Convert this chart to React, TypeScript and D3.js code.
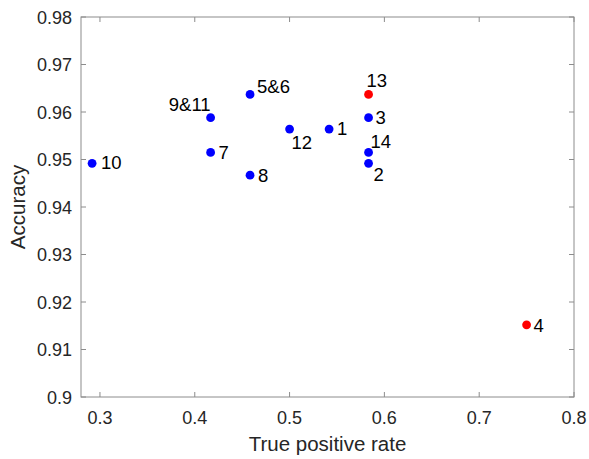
import React from "react";
import * as d3 from "d3";

const labels = ["1", "2", "3", "4", "5&6", "7", "8", "9&11", "10", "12", "13", "14"];
const tpr = [0.5417, 0.5833, 0.5833, 0.75, 0.4583, 0.4167, 0.4583, 0.4167, 0.2917, 0.5, 0.5833, 0.5833];
const accuracy = [0.9564, 0.9492, 0.9588, 0.9152, 0.9637, 0.9515, 0.9467, 0.9588, 0.9492, 0.9564, 0.9637, 0.9515];
const highlighted = [false, false, false, true, false, false, false, false, false, false, true, false];
const xTicks = [0.3, 0.4, 0.5, 0.6, 0.7, 0.8];
const yTicks = [0.9, 0.91, 0.92, 0.93, 0.94, 0.95, 0.96, 0.97, 0.98];

// label placement (dx, dy of baseline, anchor) per point
const labelOffsets: [number, number, string][] = [
  [8, 6, "start"],
  [5, 18, "start"],
  [7, 6, "start"],
  [7, 7, "start"],
  [7, -1, "start"],
  [8, 7, "start"],
  [8, 7, "start"],
  [0, -7, "end"],
  [9, 6, "start"],
  [2, 20, "start"],
  [-2, -7, "start"],
  [2, -4, "start"],
];

export default function App() {
  const W = 589, H = 459;
  const left = 81, right = 574, top = 17, bottom = 397;
  const x = d3.scaleLinear().domain([0.28, 0.8]).range([left, right]);
  const y = d3.scaleLinear().domain([0.9, 0.98]).range([bottom, top]);
  const axisColor = "#8c8c8c";
  const textColor = "#262626";
  const font = "'Liberation Sans', Arial, sans-serif";
  const tl = 5;
  return (
    <svg width={W} height={H} style={{ position: "absolute", left: 0, top: 0, background: "#fff" }} fontFamily={font}>
      <rect x={0} y={0} width={W} height={H} fill="#fff" />
      <rect x={left} y={top} width={right - left} height={bottom - top} fill="none" stroke={axisColor} strokeWidth={1} />
      {xTicks.map((t) => (
        <g key={"x" + t}>
          <line x1={x(t)} x2={x(t)} y1={bottom} y2={bottom - tl} stroke={axisColor} />
          <line x1={x(t)} x2={x(t)} y1={top} y2={top + tl} stroke={axisColor} />
          <text x={x(t)} y={424} textAnchor="middle" fontSize={18} fill={textColor}>
            {d3.format("")(t)}
          </text>
        </g>
      ))}
      {yTicks.map((t) => (
        <g key={"y" + t}>
          <line x1={left} x2={left + tl} y1={y(t)} y2={y(t)} stroke={axisColor} />
          <line x1={right} x2={right - tl} y1={y(t)} y2={y(t)} stroke={axisColor} />
          <text x={72} y={y(t) + 6.5} textAnchor="end" fontSize={18} fill={textColor}>
            {d3.format("")(+t.toFixed(2))}
          </text>
        </g>
      ))}
      <text x={(left + right) / 2} y={451} textAnchor="middle" fontSize={20.5} fill={textColor}>
        True positive rate
      </text>
      <text transform={`translate(25, ${(top + bottom) / 2}) rotate(-90)`} textAnchor="middle" fontSize={20.5} fill={textColor}>
        Accuracy
      </text>
      {labels.map((lab, i) => (
        <g key={lab}>
          <circle cx={x(tpr[i])} cy={y(accuracy[i])} r={4.4} fill={highlighted[i] ? "#ff0000" : "#0000ff"} />
          <text
            x={x(tpr[i]) + labelOffsets[i][0]}
            y={y(accuracy[i]) + labelOffsets[i][1]}
            textAnchor={labelOffsets[i][2] as any}
            fontSize={18.5}
            fill="#000"
          >
            {lab}
          </text>
        </g>
      ))}
    </svg>
  );
}
